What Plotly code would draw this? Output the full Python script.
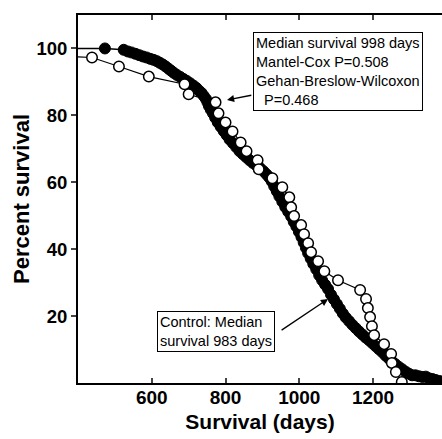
import plotly.graph_objects as go

# Treated group (filled circles) - read along the dense band
treat_days = [400, 473, 524, 535, 545, 556, 566, 576, 586, 596, 605, 614, 622, 630, 638, 646,
              653, 660, 668, 677, 686, 695, 704, 713, 721, 728, 735, 741, 747, 751, 755, 760,
              766, 772, 779, 787, 795, 803, 811, 820, 829, 838, 847, 856, 865, 874, 884, 894,
              903, 911, 918, 925, 932, 939, 946, 954, 962, 970, 978, 985, 992, 999, 1006, 1012,
              1018, 1024, 1031, 1038, 1046, 1054, 1062, 1070, 1078, 1086, 1094, 1102, 1110, 1118,
              1126, 1135, 1144, 1153, 1162, 1171, 1180, 1189, 1198, 1207, 1216, 1225, 1234, 1243,
              1252, 1261, 1270, 1279, 1288, 1297, 1306, 1315, 1325, 1334, 1343, 1352, 1361, 1370,
              1380, 1390]
treat_surv = [100, 100, 99.6, 99.1, 98.8, 98.4, 98.0, 97.6, 97.3, 96.9, 96.6, 96.2, 95.7, 95.2, 94.6, 93.9,
              93.3, 92.7, 92.1, 91.5, 90.9, 90.3, 89.6, 88.9, 88.2, 87.4, 86.7, 85.8, 84.9, 83.9, 82.8, 81.7,
              80.6, 79.3, 77.9, 76.6, 75.3, 74.1, 72.8, 71.7, 70.5, 69.3, 68.4, 67.5, 66.6, 65.8, 65.0, 64.2,
              63.3, 62.4, 61.5, 60.3, 58.8, 57.3, 55.8, 54.2, 52.6, 51.2, 49.8, 48.2, 46.8, 45.2, 43.6, 42.0,
              40.4, 38.8, 37.2, 35.6, 34.0, 32.2, 30.7, 29.4, 28.1, 26.4, 25.0, 23.6, 22.2, 20.8,
              19.6, 18.5, 17.4, 16.4, 15.4, 14.5, 13.6, 12.8, 11.9, 11.0, 10.1, 9.2, 8.2, 7.3,
              6.4, 5.6, 4.8, 4.1, 3.4, 2.8, 2.3, 2.3, 2.0, 1.8, 1.9, 1.4, 1.2, 0.9,
              0.6, 0.4]

# Control group (open circles)
ctrl_days = [400, 438, 511, 592, 689, 700, 773, 781, 800, 819, 841, 857, 887, 890, 927, 954,
             973, 978, 986, 1005, 1013, 1024, 1032, 1051, 1068, 1105, 1165, 1181, 1186, 1192,
             1197, 1203, 1230, 1249, 1251, 1262, 1278]
ctrl_surv = [97.5, 97.3, 94.6, 91.6, 89.3, 86.3, 83.9, 80.6, 77.9, 75.2, 71.9, 69.3, 66.6, 63.9, 61.2, 58.5,
             55.5, 52.5, 49.9, 47.2, 44.5, 41.8, 39.1, 36.4, 33.4, 30.7, 27.8, 25.1, 22.4, 19.7,
             17.0, 14.3, 11.6, 8.7, 6.0, 3.3, 0.3]

x_ticks = [600, 800, 1000, 1200]
y_ticks = [20, 40, 60, 80, 100]

FONT = "Liberation Sans, Arial, sans-serif"

fig = go.Figure()
fig.add_trace(go.Scatter(
    x=treat_days, y=treat_surv, mode="lines+markers",
    line=dict(color="black", width=1.5),
    marker=dict(size=[0] + [11] * (len(treat_days) - 1), color="black", opacity=1,
                line=dict(color="black", width=1)),
    showlegend=False, hoverinfo="skip", cliponaxis=True))
fig.add_trace(go.Scatter(
    x=ctrl_days, y=ctrl_surv, mode="lines+markers",
    line=dict(color="black", width=1.2),
    marker=dict(size=[0] + [10.5] * (len(ctrl_days) - 1), color="white", opacity=1,
                line=dict(color="black", width=1.5)),
    showlegend=False, hoverinfo="skip", cliponaxis=True))

ann_font = dict(family=FONT, size=14.5, color="black")
fig.add_annotation(
    x=874, y=104.9, xref="x", yref="y", xanchor="left", yanchor="top",
    text="Median survival 998 days<br>Mantel-Cox P=0.508<br>Gehan-Breslow-Wilcoxon<br>\u00a0\u00a0P=0.468",
    showarrow=False, align="left", font=ann_font,
    bordercolor="black", borderwidth=1, borderpad=2, bgcolor="white")
fig.add_annotation(
    x=614, y=21.5, xref="x", yref="y", xanchor="left", yanchor="top",
    text="Control: Median<br>survival 983 days",
    showarrow=False, align="left", font=ann_font,
    bordercolor="black", borderwidth=1, borderpad=2, bgcolor="white")
# arrows
fig.add_annotation(x=804, y=84.6, ax=874, ay=86.1, xref="x", yref="y", axref="x", ayref="y",
                   text="", showarrow=True, arrowhead=2, arrowsize=1.1, arrowwidth=1.3,
                   arrowcolor="black")
fig.add_annotation(x=1078, y=25.1, ax=948, ay=15.5, xref="x", yref="y", axref="x", ayref="y",
                   text="", showarrow=True, arrowhead=2, arrowsize=1.1, arrowwidth=1.3,
                   arrowcolor="black")

fig.update_layout(
    width=442, height=439,
    margin=dict(l=78, r=0, t=15, b=56),
    plot_bgcolor="white", paper_bgcolor="white",
    font=dict(family=FONT, color="black"),
    xaxis=dict(range=[400, 1387], tickvals=x_ticks, ticks="inside", ticklen=5, tickwidth=1.5,
               showline=True, linewidth=2, linecolor="black", mirror="ticks",
               showgrid=False, zeroline=False, automargin=False, ticklabelstandoff=-4,
               tickfont=dict(family=FONT, size=19, color="black", weight="bold"),
               title=dict(text="<b>Survival (days)</b>", standoff=8,
                          font=dict(family=FONT, size=21, color="black"))),
    yaxis=dict(range=[0, 110], tickvals=y_ticks, ticks="outside", ticklen=5, tickwidth=1.5,
               showline=True, linewidth=2, linecolor="black", mirror=False,
               showgrid=False, zeroline=False, automargin=False,
               tickfont=dict(family=FONT, size=18.5, color="black", weight="bold"),
               title=dict(text="<b>Percent survival</b>", standoff=1,
                          font=dict(family=FONT, size=22, color="black"))),
    yaxis2=dict(range=[0, 110], tickvals=y_ticks, ticks="inside", ticklen=4, tickwidth=1.5,
                overlaying="y", side="right", showline=False, showgrid=False, zeroline=False,
                showticklabels=False, tickcolor="black", automargin=False),
)

fig.write_html("out.html", config={"displayModeBar": False},
               post_script="document.body.style.margin='0px';document.body.style.overflow='hidden';")
